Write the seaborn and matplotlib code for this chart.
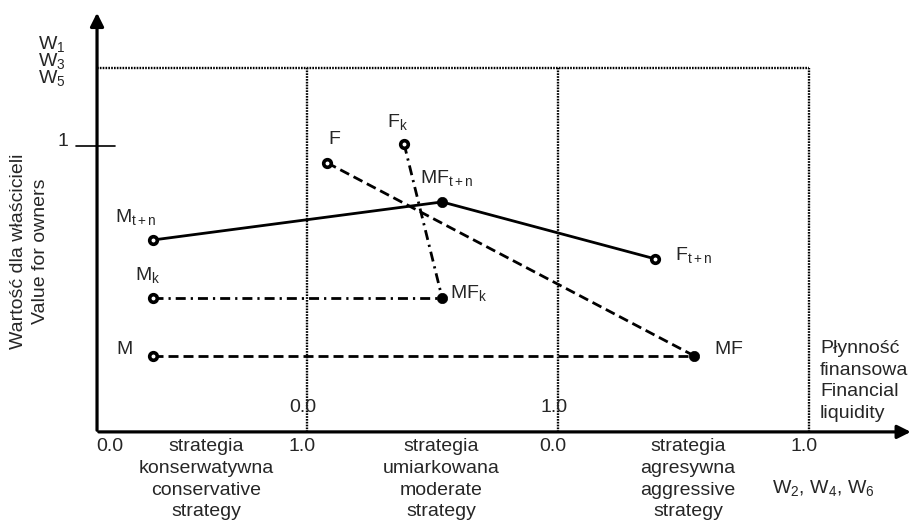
import numpy as np
import pandas as pd
import matplotlib
matplotlib.use("Agg")
import matplotlib.pyplot as plt
import seaborn as sns

# ---------------------------
# DATA (x: financial liquidity scale, y: value for owners)
# ---------------------------

point_names = ["M_{t+n}", "MF_{t+n}", "F_{t+n}", "M_k", "MF_k", "F_k", "F", "M", "MF"]
point_x = [0.267, 1.643, 2.657, 0.267, 1.643, 1.462, 1.095, 0.267, 2.843]
point_y = [0.671, 0.804, 0.605, 0.469, 0.469, 1.007, 0.941, 0.266, 0.266]
point_filled = [False, True, False, False, True, False, False, False, True]

solid_path = ["M_{t+n}", "MF_{t+n}", "F_{t+n}"]
dashdot_paths = [["M_k", "MF_k"], ["F_k", "MF_k"]]
dashed_paths = [["M", "MF"], ["F", "MF"]]

boundary_x = [1.0, 2.195, 3.390]
top_level = 1.273
inner_tick_labels = ["0.0", "1.0"]
outer_tick_labels = ["0.0", "1.0", "0.0", "1.0"]
strategy_labels = [
    "strategia\nkonserwatywna\nconservative\nstrategy",
    "strategia\numiarkowana\nmoderate\nstrategy",
    "strategia\nagresywna\naggressive\nstrategy",
]

df = pd.DataFrame({"name": point_names, "x": point_x, "y": point_y, "filled": point_filled})
pts = df.set_index("name")

# ---------------------------
# STYLE
# ---------------------------

sns.set_style("white")
plt.rcParams["font.family"] = ["Liberation Sans", "DejaVu Sans"]
plt.rcParams["mathtext.fontset"] = "custom"
plt.rcParams["mathtext.rm"] = "Liberation Sans"
plt.rcParams["mathtext.it"] = "Liberation Sans"

FS = 14

fig = plt.figure(figsize=(9.14, 5.26), dpi=100)
ax = fig.add_axes([0, 0, 1, 1])
ax.set_xlim(-0.462, 3.890)
ax.set_ylim(-0.329, 1.510)
ax.axis("off")

# ---------------------------
# FRAME / GUIDES
# ---------------------------

dot = dict(color="black", lw=1.7, linestyle=(0, (0.7, 0.5)))
ax.plot([0, boundary_x[-1]], [top_level, top_level], **dot)
for bx in boundary_x:
    ax.plot([bx, bx], [0, top_level], **dot)

ax.annotate("", xy=(0, 1.475), xytext=(0, -0.004), annotation_clip=False,
            arrowprops=dict(arrowstyle="-|>", lw=2.3, color="black", mutation_scale=20))
ax.annotate("", xy=(3.888, 0), xytext=(-0.005, 0), annotation_clip=False,
            arrowprops=dict(arrowstyle="-|>", lw=2.3, color="black", mutation_scale=20))

# tick at 1
ax.plot([-0.100, 0.086], [1.0, 1.0], color="black", lw=1.2)
ax.text(-0.135, 1.017, "1", fontsize=FS, ha="right", va="center")

ax.text(-0.148, 1.297, "$\\mathregular{W_1}$\n$\\mathregular{W_3}$\n$\\mathregular{W_5}$",
        fontsize=FS, ha="right", va="center", linespacing=0.82)

# ---------------------------
# SERIES
# ---------------------------

def draw_path(names, ls):
    seg = pts.loc[names]
    sns.lineplot(x=seg["x"].values, y=seg["y"].values, ax=ax, color="black",
                 lw=2.0, linestyle=ls, sort=False)

draw_path(solid_path, "-")
for p in dashdot_paths:
    draw_path(p, (0, (3.6, 1.8, 0.8, 1.8)))
for p in dashed_paths:
    draw_path(p, (0, (3.6, 1.8)))

sns.scatterplot(data=df[~df["filled"]], x="x", y="y", ax=ax, s=30,
                color="white", edgecolor="black", linewidth=2.6, zorder=5)
sns.scatterplot(data=df[df["filled"]], x="x", y="y", ax=ax, s=55,
                color="black", edgecolor="black", linewidth=0.5, zorder=5)

# point labels (offset from point, left edge / centre)
label_off = {
    "M_{t+n}": (-0.181, 0.080),
    "MF_{t+n}": (-0.105, 0.084),
    "F_{t+n}": (0.095, 0.014),
    "M_k": (-0.086, 0.080),
    "MF_k": (0.038, 0.017),
    "F_k": (-0.081, 0.077),
    "F": (0.005, 0.080),
    "M": (-0.176, 0.021),
    "MF": (0.095, 0.021),
}
for name, (dx, dy) in label_off.items():
    px, py = pts.loc[name, "x"], pts.loc[name, "y"]
    ax.text(px + dx, py + dy, "$\\mathregular{" + name + "}$", fontsize=FS,
            ha="left", va="center")

# ---------------------------
# AXIS TEXTS
# ---------------------------

for bx, lab in zip(boundary_x[:2], inner_tick_labels):
    ax.text(bx - 0.019, 0.084, lab, fontsize=FS, ha="center", va="center")

outer_x = [0.062] + [bx - 0.025 for bx in boundary_x]
for tx, lab in zip(outer_x, outer_tick_labels):
    ax.text(tx, -0.052, lab, fontsize=FS, ha="center", va="center")

strategy_x = [0.519, 1.638, 2.814]
for sx, lab in zip(strategy_x, strategy_labels):
    ax.text(sx, -0.022, lab, fontsize=FS, ha="center", va="top", linespacing=1.36)

ax.text(3.214, -0.196, "$\\mathregular{W_2}$, $\\mathregular{W_4}$, $\\mathregular{W_6}$",
        fontsize=FS, ha="left", va="center")

ax.text(3.443, 0.178, "Płynność\nfinansowa\nFinancial\nliquidity", fontsize=FS,
        ha="left", va="center", linespacing=1.36)

ax.text(-0.375, 0.633, "Wartość dla właścicieli", fontsize=14, rotation=90,
        ha="center", va="center")
ax.text(-0.268, 0.633, "Value for owners", fontsize=14, rotation=90,
        ha="center", va="center")

fig.savefig("out.png", dpi=100)
